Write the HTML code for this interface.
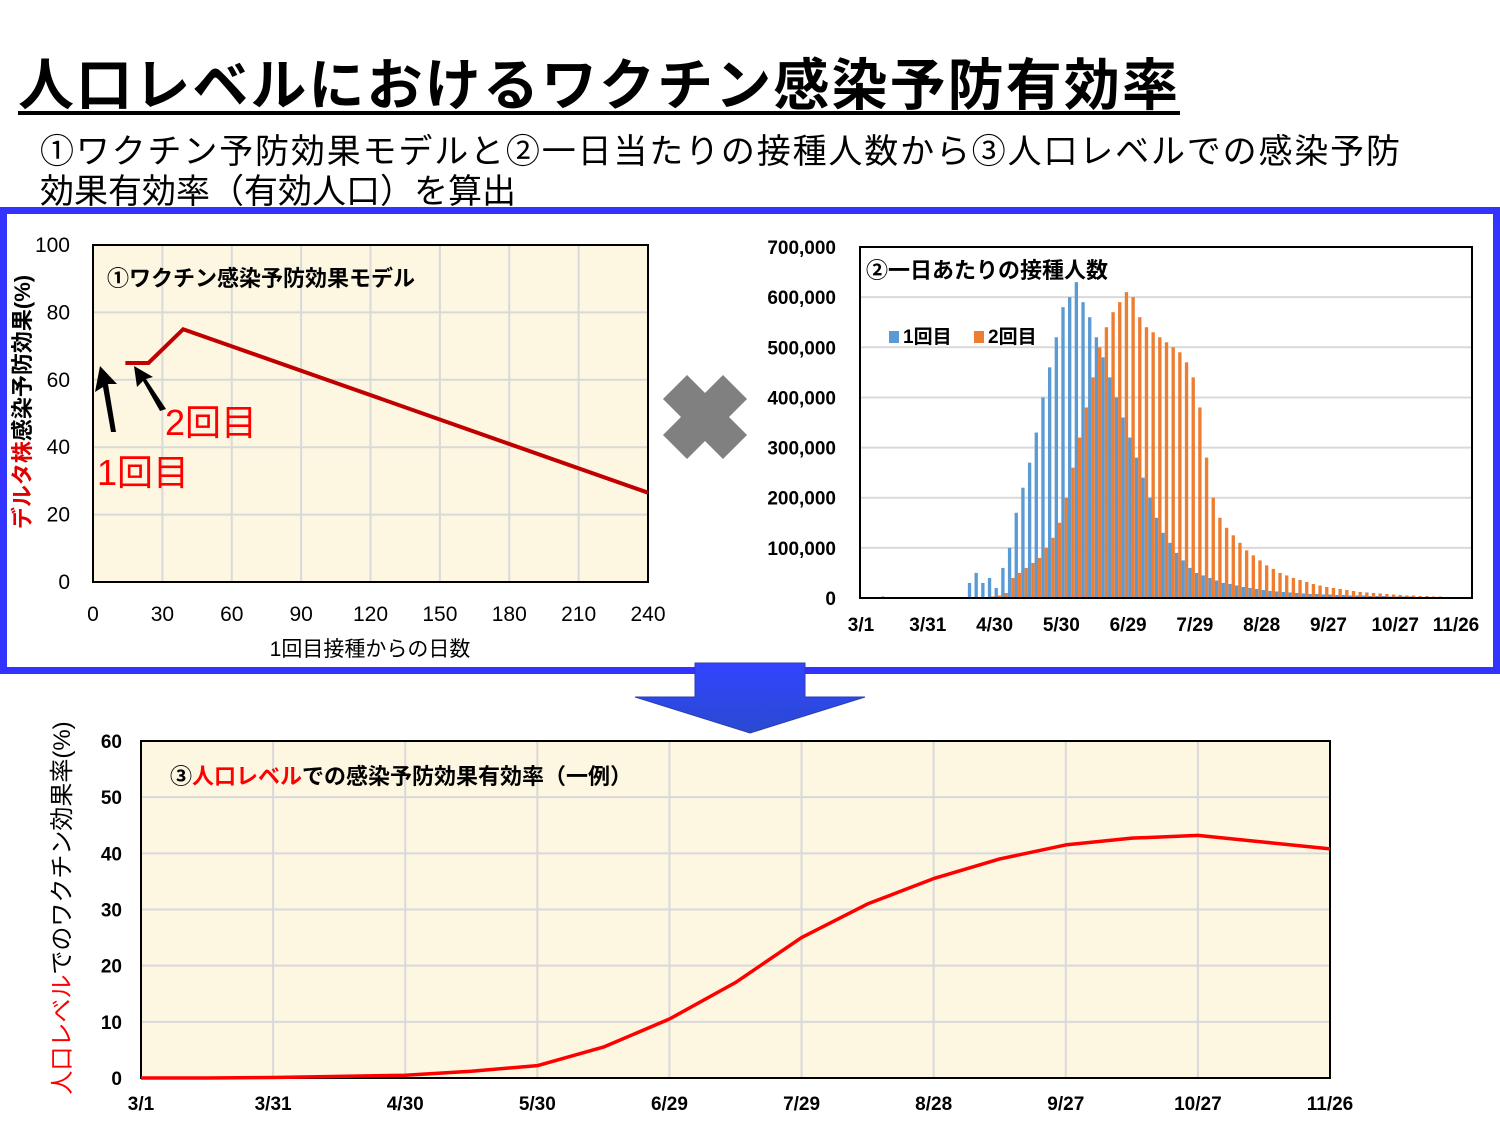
<!DOCTYPE html>
<html><head><meta charset="utf-8">
<style>
body{margin:0;background:#fff;}
svg{display:block;font-family:"Liberation Sans","Noto Sans CJK JP",sans-serif;}
</style></head>
<body>
<svg id="s" width="1500" height="1125" viewBox="0 0 1500 1125" xmlns="http://www.w3.org/2000/svg">
<text x="18" y="105" font-size="56" font-weight="bold" fill="#000" textLength="1160" lengthAdjust="spacing">人口レベルにおけるワクチン感染予防有効率</text>
<rect x="18" y="111" width="1162" height="4" fill="#000"/>
<text x="40" y="163" font-size="34" fill="#000" textLength="1360" lengthAdjust="spacing">①ワクチン予防効果モデルと②一日当たりの接種人数から③人口レベルでの感染予防</text>
<text x="40" y="203" font-size="34" fill="#000">効果有効率（有効人口）を算出</text>
<rect x="3.5" y="210.5" width="1493" height="460" fill="#fff" stroke="#3333ff" stroke-width="7"/>

<g id="c1">
<rect x="93" y="245" width="555" height="337" fill="#fdf6e1"/>
</g>
<g stroke="#808080" stroke-width="34">
<line x1="675" y1="387" x2="735" y2="447"/><line x1="735" y1="387" x2="675" y2="447"/>
</g>
<g id="c2">
<rect x="860" y="247" width="612" height="351" fill="#fff"/>
</g>
<defs><linearGradient id="ag" x1="0" y1="0" x2="0" y2="1"><stop offset="0" stop-color="#3344ff"/><stop offset="1" stop-color="#2a4ad0"/></linearGradient></defs>
<polygon points="695,663 805,663 805,697 865,697 750,733 635,697 695,697" fill="url(#ag)" stroke="#2a3fb0" stroke-width="1"/>
<g id="c3">
<rect x="141" y="741" width="1189" height="337" fill="#fdf6e1"/>
</g>
</svg>
<script>
// ---- chart 1 data ----
const modelDays=[14,24,39,240];
const modelEff=[65,65,75,26.5];
const c1XTicks=[0,30,60,90,120,150,180,210,240];
const c1YTicks=[0,20,40,60,80,100];
// ---- chart 2 data (3-day bins, thousands) ----
const dose1=[0,1,2,3,2,1,0,0,0,1,1,2,2,1,1,2,30,50,30,40,20,60,100,170,220,270,330,400,460,520,580,600,630,590,560,520,480,440,400,360,320,280,240,200,160,130,110,90,75,60,50,45,40,35,30,28,25,22,20,18,16,14,13,12,11,10,9,8,8,7,7,6,6,5,5,5,4,4,4,3,3,3,3,2,2,2,2,2,2,1];
const dose2=[0,0,0,0,0,0,0,0,0,0,0,0,0,0,0,0,0,0,2,3,5,10,40,50,60,70,80,100,120,150,200,260,320,380,440,500,540,570,590,610,600,560,540,530,520,510,500,490,470,440,380,280,200,160,140,125,110,95,85,75,65,58,50,45,40,36,32,28,25,22,20,18,16,14,12,11,10,9,8,7,6,5,5,4,4,3,3,2,2,2];
const c2YTicks=["0","100,000","200,000","300,000","400,000","500,000","600,000","700,000"];
const c2XLabels=["3/1","3/31","4/30","5/30","6/29","7/29","8/28","9/27","10/27","11/26"];
// ---- chart 3 data ----
const popDays=[0,15,30,45,60,75,90,105,120,135,150,165,180,195,210,225,240,255,270];
const popEff=[0,0,0.1,0.3,0.5,1.2,2.2,5.5,10.5,17,25,31,35.5,39,41.5,42.7,43.2,42,40.8];
const c3YTicks=[0,10,20,30,40,50,60];
const c3XLabels=["3/1","3/31","4/30","5/30","6/29","7/29","8/28","9/27","10/27","11/26"];

const NS="http://www.w3.org/2000/svg";
function mk(parent,tag,attrs,text){const e=document.createElementNS(NS,tag);for(const k in attrs)e.setAttribute(k,attrs[k]);if(text!==undefined)e.textContent=text;parent.appendChild(e);return e;}

(function(){
const g=document.getElementById('c1');
const X=d=>93+d/240*555, Y=v=>582-v/100*337;
c1XTicks.forEach(t=>{if(t>0&&t<240){const l=mk(g,'line',{x1:X(t),x2:X(t),y1:245,y2:582,stroke:'#d9d9d9','stroke-width':2});

}
const tx=mk(g,'text',{x:X(t),y:621,'font-size':21,'text-anchor':'middle',fill:'#000'},String(t));

});
c1YTicks.forEach(t=>{if(t>0&&t<100){const l=mk(g,'line',{x1:93,x2:648,y1:Y(t),y2:Y(t),stroke:'#d9d9d9','stroke-width':2});

}
const tx=mk(g,'text',{x:70,y:Y(t)+7,'font-size':21,'text-anchor':'end',fill:'#000'},String(t));

});
const fr=mk(g,'rect',{x:93,y:245,width:555,height:337,fill:'none',stroke:'#000','stroke-width':2});


const pl=mk(g,'polyline',{points:modelDays.map((d,i)=>X(d)+','+Y(modelEff[i])).join(' '),fill:'none',stroke:'#c00000','stroke-width':4});


const t1=mk(g,'text',{x:107,y:286,'font-size':22,'font-weight':'bold',fill:'#000'},'①ワクチン感染予防効果モデル');


const xl=mk(g,'text',{x:370,y:656,'font-size':21,'text-anchor':'middle',fill:'#000'},'1回目接種からの日数');


const yl=mk(g,'text',{x:0,y:0,'font-size':22,'text-anchor':'middle',transform:'translate(30,402) rotate(-90)',fill:'#000','font-weight':'bold'});


mk(yl,'tspan',{fill:'#e00000'},'デルタ株');mk(yl,'tspan',{},'感染予防効果(%)');
const a1=mk(g,'polygon',{points:'111,432 103,387 95,392 100,366 117,384 108,384 116,432',fill:'#000'});


const a2=mk(g,'polygon',{points:'160,411 143,381 137,387 134,366 153,377 146,379 166,409',fill:'#000'});


const l1=mk(g,'text',{x:97,y:485,'font-size':36,fill:'#ff0000'},'1回目');


const l2=mk(g,'text',{x:165,y:435,'font-size':36,fill:'#ff0000'},'2回目');


})();

(function(){
const g=document.getElementById('c2');
const dayW=(1462-861)/270;
const X=d=>861+d*dayW, Y=v=>598-v/700*351;
c2YTicks.forEach((t,i)=>{const y=598-i*50.14;
if(i>0&&i<7){const l=mk(g,'line',{x1:860,x2:1472,y1:y,y2:y,stroke:'#d9d9d9','stroke-width':2});

}
const tx=mk(g,'text',{x:836,y:y+7,'font-size':19,'font-weight':'bold','text-anchor':'end',fill:'#000'},t);

});
c2XLabels.forEach((t,i)=>{const tx=mk(g,'text',{x:X(i*30)+(i===9?-6:0),y:631,'font-size':19,'font-weight':'bold','text-anchor':'middle',fill:'#000'},t);

});
const bw=3*dayW;
dose1.forEach((v,i)=>{const y=Y(v);const r=mk(g,'rect',{x:X(i*3),y:y,width:bw*0.5,height:598-y,fill:'#5b9bd5'});

});
dose2.forEach((v,i)=>{const y=Y(v);const r=mk(g,'rect',{x:X(i*3)+bw*0.5,y:y,width:bw*0.5,height:598-y,fill:'#ed7d31'});

});
const fr=mk(g,'rect',{x:860,y:247,width:612,height:351,fill:'none',stroke:'#000','stroke-width':2});


const t=mk(g,'text',{x:866,y:278,'font-size':22,'font-weight':'bold',fill:'#000'},'②一日あたりの接種人数');


const s1=mk(g,'rect',{x:889,y:331,width:10,height:12,fill:'#5b9bd5'});


const e1=mk(g,'text',{x:903,y:343,'font-size':19,'font-weight':'bold',fill:'#000'},'1回目');


const s2=mk(g,'rect',{x:974,y:331,width:10,height:12,fill:'#ed7d31'});


const e2=mk(g,'text',{x:988,y:343,'font-size':19,'font-weight':'bold',fill:'#000'},'2回目');


})();

(function(){
const g=document.getElementById('c3');
const X=d=>141+d/270*1189, Y=v=>1078-v/60*337;
c3XLabels.forEach((t,i)=>{const x=X(i*30);
if(i>0&&i<9){const l=mk(g,'line',{x1:x,x2:x,y1:741,y2:1078,stroke:'#d9d9d9','stroke-width':2});

}
const tx=mk(g,'text',{x:x,y:1110,'font-size':19,'font-weight':'bold','text-anchor':'middle',fill:'#000'},t);

});
c3YTicks.forEach(t=>{const y=Y(t);
if(t>0&&t<60){const l=mk(g,'line',{x1:141,x2:1330,y1:y,y2:y,stroke:'#d9d9d9','stroke-width':2});

}
const tx=mk(g,'text',{x:122,y:y+7,'font-size':19,'font-weight':'bold','text-anchor':'end',fill:'#000'},String(t));

});
const fr=mk(g,'rect',{x:141,y:741,width:1189,height:337,fill:'none',stroke:'#000','stroke-width':2});


const pl=mk(g,'polyline',{points:popDays.map((d,i)=>X(d)+','+Y(popEff[i])).join(' '),fill:'none',stroke:'#ff0000','stroke-width':3.5,'stroke-linejoin':'round'});


const t=mk(g,'text',{x:170,y:784,'font-size':22,'font-weight':'bold',fill:'#000'});


mk(t,'tspan',{},'③');mk(t,'tspan',{fill:'#ff0000'},'人口レベル');mk(t,'tspan',{},'での感染予防効果有効率（一例）');
const yl=mk(g,'text',{x:0,y:0,'font-size':24,'text-anchor':'middle',transform:'translate(70,908) rotate(-90)',fill:'#000'});


mk(yl,'tspan',{fill:'#ff0000'},'人口レベル');mk(yl,'tspan',{},'でのワクチン効果率(%)');
})();
</script>
</body></html>
